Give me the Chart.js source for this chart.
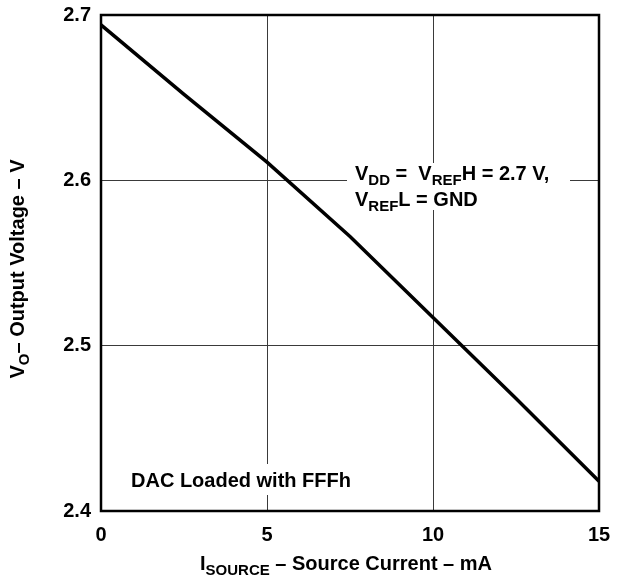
<!DOCTYPE html>
<html>
<head>
<meta charset="utf-8">
<script src="https://cdn.jsdelivr.net/npm/chart.js@4"></script>
<style>
  body { margin: 0; background: #fff; }
  #wrap { width: 621px; height: 582px; }
</style>
</head>
<body>
<div id="wrap"><canvas id="myChart"></canvas></div>
<script>
// source current (mA) and output voltage (V)
const currentMa = [0, 2.5, 5, 7.5, 10, 12.5, 15];
const outputV = [2.694, 2.652, 2.611, 2.566, 2.517, 2.468, 2.418];
const xTicks = [0, 5, 10, 15];
const yTicks = [2.4, 2.5, 2.6, 2.7];

const FONT = '"Liberation Sans", Arial, sans-serif';

// draws text with subscripts, parts = [[text, isSub], ...]
function richText(ctx, parts, x, y, size, align) {
    const subSize = Math.round(size * 0.75);
    let total = 0;
    parts.forEach(p => {
        ctx.font = 'bold ' + (p[1] ? subSize : size) + 'px ' + FONT;
        total += ctx.measureText(p[0]).width;
    });
    let cx = align === 'center' ? x - total / 2 : x;
    ctx.textAlign = 'left';
    ctx.textBaseline = 'alphabetic';
    parts.forEach(p => {
        ctx.font = 'bold ' + (p[1] ? subSize : size) + 'px ' + FONT;
        ctx.fillText(p[0], cx, p[1] ? y + 5 : y);
        cx += ctx.measureText(p[0]).width;
    });
    return total;
}

const extras = {
    id: 'extras',
    afterDraw(chart) {
        const { ctx, chartArea: { top, right, bottom, left } } = chart;
        ctx.save();

        // white patches behind the notes
        ctx.fillStyle = '#fff';
        ctx.fillRect(347, 163, 223, 47);
        ctx.fillRect(128, 464, 234, 31);
        ctx.fillStyle = '#000';
        richText(ctx, [['V', false], ['DD', true], [' =  V', false], ['REF', true], ['H = 2.7 V,', false]], 355, 180, 20, 'left');
        richText(ctx, [['V', false], ['REF', true], ['L = GND', false]], 355, 206, 20, 'left');

        ctx.font = 'bold 20px ' + FONT;
        ctx.textAlign = 'left';
        ctx.fillText('DAC Loaded with FFFh', 131, 487);

        // axis titles
        richText(ctx, [['I', false], ['SOURCE', true], [' \u2013 Source Current \u2013 mA', false]], (left + right) / 2 - 4, 570, 20, 'center');
        ctx.translate(24, (top + bottom) / 2 + 6);
        ctx.rotate(-Math.PI / 2);
        richText(ctx, [['V', false], ['O', true], ['\u2013 Output Voltage \u2013 V', false]], 0, 0, 20, 'center');
        ctx.restore();

        // frame
        ctx.save();
        ctx.strokeStyle = '#000';
        ctx.lineWidth = 2.5;
        ctx.strokeRect(left, top, right - left, bottom - top);
        ctx.restore();
    }
};

const data = {
    datasets: [{
        data: currentMa.map((x, i) => ({ x: x, y: outputV[i] })),
        borderColor: '#000',
        borderWidth: 3.5,
        pointRadius: 0,
        tension: 0,
        fill: false
    }]
};

const config = {
    type: 'line',
    data: data,
    options: {
        responsive: true,
        maintainAspectRatio: false,
        animation: false,
        layout: { padding: { top: 15, right: 22, left: 0, bottom: 0 } },
        plugins: { legend: { display: false }, tooltip: { enabled: false } },
        scales: {
            x: {
                type: 'linear',
                min: 0,
                max: 15,
                afterFit: s => { s.height = 71; s.paddingLeft = 0; s.paddingRight = 0; },
                afterBuildTicks: s => { s.ticks = xTicks.map(v => ({ value: v })); },
                ticks: { color: '#000', padding: 12, maxRotation: 0, font: { family: FONT, size: 20, weight: 'bold' } },
                grid: { color: '#3a3a3a', lineWidth: 1, drawTicks: false },
                border: { display: false }
            },
            y: {
                min: 2.4,
                max: 2.7,
                afterFit: s => { s.width = 101; s.paddingTop = 0; s.paddingBottom = 0; },
                afterBuildTicks: s => { s.ticks = yTicks.map(v => ({ value: v })); },
                ticks: { color: '#000', padding: 10, font: { family: FONT, size: 20, weight: 'bold' },
                    callback: v => v.toFixed(1) },
                grid: { color: '#3a3a3a', lineWidth: 1, drawTicks: false },
                border: { display: false }
            }
        }
    },
    plugins: [extras]
};

new Chart(document.getElementById('myChart'), config);
</script>
</body>
</html>
